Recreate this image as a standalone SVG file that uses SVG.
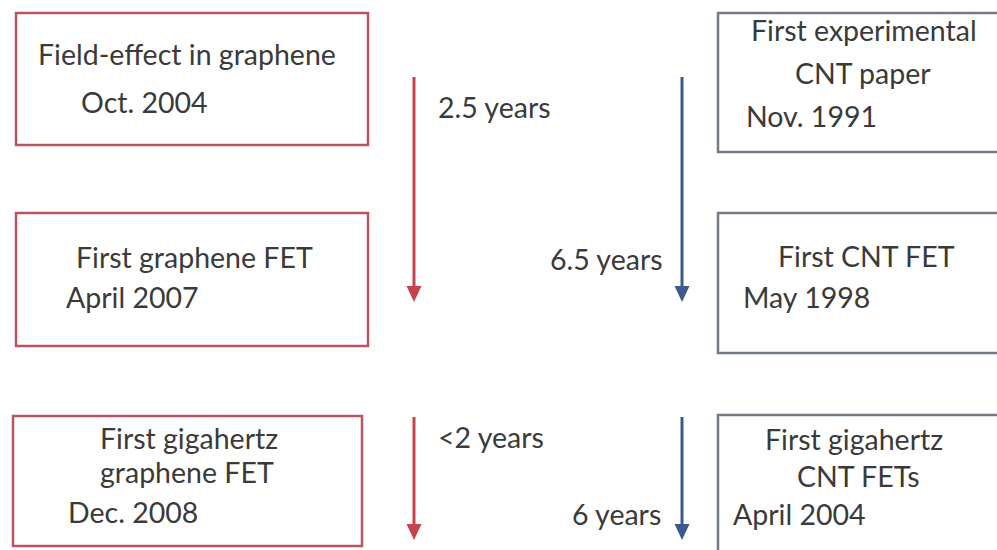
<svg xmlns="http://www.w3.org/2000/svg" width="997" height="550" viewBox="0 0 997 550">
<style>
.bg{fill:#ffffff}
.rbox{fill:#ffffff;stroke:#b85560;stroke-width:2.5}
.bbox{fill:#ffffff;stroke:#727a84;stroke-width:2.5}
.t{font-family:Lato,"Liberation Sans",sans-serif;font-size:28.5px;fill:#3a3a3a}
.ra{stroke:#c6434d;stroke-width:3;fill:none}
.ba{stroke:#3d5a8e;stroke-width:3;fill:none}
.rh{fill:#c6434d}
.bh{fill:#3d5a8e}
</style>
<rect class="bg" x="0" y="0" width="997" height="550"/>
<g id="connectors">
<line class="ra" x1="414" y1="77" x2="414" y2="290"/>
<path class="rh" d="M406.5,286 L421.5,286 L414,302 Z"/>
<line class="ba" x1="682" y1="77" x2="682" y2="290"/>
<path class="bh" d="M674.5,286 L689.5,286 L682,302 Z"/>
<line class="ra" x1="414" y1="417" x2="414" y2="528"/>
<path class="rh" d="M406.5,524 L421.5,524 L414,540 Z"/>
<line class="ba" x1="682" y1="417" x2="682" y2="528"/>
<path class="bh" d="M674.5,524 L689.5,524 L682,540 Z"/>
<text class="t" x="438" y="118">2.5 years</text>
<text class="t" x="550" y="270">6.5 years</text>
<text class="t" x="438" y="448">&lt;2 years</text>
<text class="t" x="572" y="525">6 years</text>
</g>
<g id="n1">
<rect class="rbox" x="16" y="13" width="352" height="132"/>
<text class="t" x="38" y="65">Field-effect in graphene</text>
<text class="t" x="81" y="113">Oct. 2004</text>
</g>
<g id="n2">
<rect class="bbox" x="718" y="13" width="300" height="139"/>
<text class="t" x="751" y="41">First experimental</text>
<text class="t" x="795" y="84">CNT paper</text>
<text class="t" x="746" y="127">Nov. 1991</text>
</g>
<g id="n3">
<rect class="rbox" x="16" y="213" width="352" height="133"/>
<text class="t" x="76" y="268">First graphene FET</text>
<text class="t" x="66" y="308">April 2007</text>
</g>
<g id="n4">
<rect class="bbox" x="718" y="213" width="300" height="140"/>
<text class="t" x="778" y="267">First CNT FET</text>
<text class="t" x="743" y="308">May 1998</text>
</g>
<g id="n5">
<rect class="rbox" x="13" y="416" width="349" height="130"/>
<text class="t" x="100" y="449">First gigahertz</text>
<text class="t" x="100" y="483">graphene FET</text>
<text class="t" x="68" y="523">Dec. 2008</text>
</g>
<g id="n6">
<rect class="bbox" x="718" y="415" width="300" height="160"/>
<text class="t" x="765" y="450">First gigahertz</text>
<text class="t" x="797" y="487">CNT FETs</text>
<text class="t" x="733" y="525">April 2004</text>
</g>
</svg>
